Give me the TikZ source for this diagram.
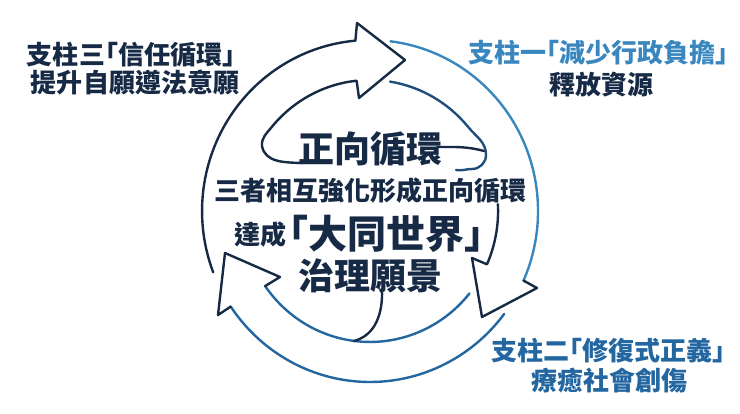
\documentclass[tikz,border=0pt]{standalone}
\usepackage{fontspec}
\newfontfamily\cjk{Noto Sans CJK TC}[RawFeature=+halt]
\definecolor{navy}{HTML}{172A45}
\definecolor{lblue}{HTML}{3A87C0}
\definecolor{mblue}{HTML}{2366A0}
\definecolor{dblue}{HTML}{1F4E7A}
\begin{document}
\begin{tikzpicture}[x=1bp,y=1bp,
  outl/.style={line width=2.4bp, line cap=round, line join=round},
  lbl/.style={inner sep=0pt, font=\cjk\bfseries\fontsize{26bp}{31bp}\selectfont},
  big/.style={inner sep=0pt, font=\cjk\bfseries\fontsize{36bp}{42bp}\selectfont},
  huge/.style={inner sep=0pt, font=\cjk\bfseries\fontsize{39bp}{44bp}\selectfont}]
\useasboundingbox (0,0) rectangle (740,413);
% top arrow (navy)
\draw[outl, navy] (213.2,140.7) arc[start angle=201, end angle=95, x radius=168, y radius=171]
  -- (357,390) -- (405,353) -- (359,315) -- (356.6,332.3)
  arc[start angle=96, end angle=140, x radius=128, y radius=131]
  to[out=231,in=95] (262,267) to[out=-80,in=178] (302,250);
% right arrow
\draw[outl, lblue] (390.5,371.7) arc[start angle=83, end angle=-24, x radius=168, y radius=171];
\draw[outl, navy] (523.5,132.4) -- (537,125) -- (482,96) -- (472,155) -- (487,148.7)
  arc[start angle=-24, end angle=3, x radius=128, y radius=131];
\draw[outl, dblue] (390,331.4) arc[start angle=81, end angle=40, x radius=128, y radius=131]
  to[out=-51,in=90] (486,258) to[out=-90,in=0] (472,244) to[out=180,in=-10] (456,243);
\draw[outl, navy] (437,266) to[out=0,in=165] (484,262);
% bottom arrow
\draw[outl, mblue] (504.2,99.1) arc[start angle=-37, end angle=-146, x radius=168, y radius=171];
\draw[outl, mblue] (469.5,119.6) arc[start angle=-39, end angle=-145, x radius=128, y radius=131];
\draw[outl, navy] (230.7,106.4) -- (218,98) -- (225,160) -- (280,136) -- (265.1,126.9);
\draw[outl, navy] (382,123) to[out=-88,in=15] (354,72);
% centre texts
\node[big, text=navy] (t1) at (370,264) {正向循環};
\node[lbl, text=navy] (t2) at (370,222) {三者相互強化形成正向循環};
\node[lbl, text=navy, anchor=east] (t3a) at (287,178) {達成};
\node[huge, text=navy, anchor=west] (t3b) at (289,179) {「大同世界」};
\node[big, text=navy] (t4) at (370,137) {治理願景};
% side labels
\node[lbl, text=navy] (a1) at (131,358) {支柱三「信任循環」};
\node[lbl, text=navy] (a2) at (135,331) {提升自願遵法意願};
\node[lbl, text=lblue] (b1) at (598,360) {支柱一「減少行政負擔」};
\node[lbl, text=navy] (b2) at (601,328) {釋放資源};
\node[lbl, text=mblue] (c1) at (608,62) {支柱二「修復式正義」};
\node[lbl, text=mblue] (c2) at (609,32) {療癒社會創傷};
\end{tikzpicture}
\end{document}
